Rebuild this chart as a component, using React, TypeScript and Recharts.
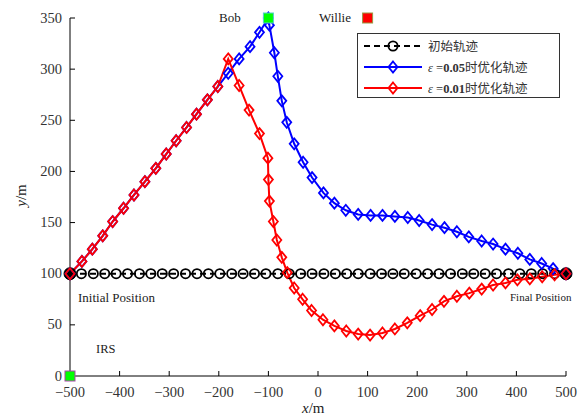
import React from 'react';
import { ComposedChart, Line, Scatter, XAxis, YAxis } from 'recharts';

// axis ticks
const X_TICKS = [-500, -400, -300, -200, -100, 0, 100, 200, 300, 400, 500];
const Y_TICKS = [0, 50, 100, 150, 200, 250, 300, 350];

// initial trajectory (straight line y = 100)
const INIT_X = [
  -500, -477, -453, -430, -407, -384, -360, -337, -314, -291, -267, -244, -221, -198, -174,
  -151, -128, -105, -81, -58, -35, -12, 12, 35, 58, 81, 105, 128, 151, 174, 198, 221, 244,
  267, 291, 314, 337, 360, 384, 407, 430, 453, 477, 500,
];
const INIT_Y = 100;

// ε = 0.05 optimised trajectory
const BLUE_X = [
  -500, -476, -455, -434, -414, -392, -371, -349, -327, -306, -286, -265, -245, -223, -202,
  -181, -159, -137, -118, -100, -98, -88, -81, -73, -63, -48, -30, -12, 11, 33, 56, 81, 106,
  130, 155, 181, 204, 230, 255, 280, 304, 330, 353, 378, 403, 427, 451, 474, 500,
];
const BLUE_Y = [
  100, 112, 124, 137, 151, 164, 177, 190, 203, 217, 230, 243, 256, 270, 283, 296, 310, 322,
  336, 350, 343, 316, 293, 269, 248, 227, 209, 194, 179, 169, 162, 158, 157, 157, 156, 155,
  152, 148, 145, 141, 136, 132, 129, 124, 120, 114, 110, 105, 100,
];

// ε = 0.01 optimised trajectory
const RED_X = [
  -500, -476, -455, -434, -414, -392, -371, -349, -327, -306, -286, -265, -245, -223, -202,
  -181, -159, -139, -118, -101, -100, -98, -90, -83, -73, -62, -48, -31, -13, 10, 33, 57, 81,
  105, 130, 155, 180, 206, 230, 254, 280, 305, 330, 353, 378, 402, 427, 452, 477, 500,
];
const RED_Y = [
  100, 112, 124, 137, 151, 164, 177, 190, 203, 217, 230, 243, 256, 270, 283, 310, 284, 260,
  237, 213, 192, 171, 151, 133, 116, 101, 86, 75, 64, 55, 49, 44, 41, 40, 42, 46, 52, 59, 65,
  73, 78, 81, 85, 89, 91, 94, 95, 97, 99, 100,
];

// node positions
const BOB = [{ x: -100, y: 350 }];
const IRS = [{ x: -500, y: 0 }];
const WILLIE = [{ x: 100, y: 350 }];
const ENDS = [{ x: -500, y: 100 }, { x: 500, y: 100 }];

const initData = INIT_X.map((x) => ({ x, y: INIT_Y }));
const blueData = BLUE_X.map((x, i) => ({ x, y: BLUE_Y[i] }));
const redData = RED_X.map((x, i) => ({ x, y: RED_Y[i] }));

const SERIF = '"Liberation Serif", "DejaVu Serif", serif';
const CJK = '"Liberation Serif", "Noto Sans CJK SC", serif';

const fmt = (v: number) => String(v).replace('-', '\u2212');

const diamond = (color: string) => (props: any) => {
  const { cx, cy, index } = props;
  if (cx == null || cy == null) return <g key={index} />;
  return (
    <polygon
      key={index}
      points={`${cx},${cy - 5.5} ${cx + 4.5},${cy} ${cx},${cy + 5.5} ${cx - 4.5},${cy}`}
      fill="none"
      stroke={color}
      strokeWidth={1.8}
    />
  );
};

const ring = (props: any) => {
  const { cx, cy, index } = props;
  if (cx == null || cy == null) return <g key={index} />;
  return <circle key={index} cx={cx} cy={cy} r={4.6} fill="none" stroke="#000" strokeWidth={1.8} />;
};

const square = (fill: string, stroke: string) => (props: any) => {
  const { cx, cy } = props;
  return <rect x={cx - 5} y={cy - 5} width={10} height={10} fill={fill} stroke={stroke} strokeWidth={1} />;
};

const bigDot = (props: any) => {
  const { cx, cy } = props;
  return <circle cx={cx} cy={cy} r={6} fill="#000" stroke="#000" />;
};

const XTick = (p: any) => (
  <text x={p.x} y={p.y} dy={21} textAnchor="middle" fill="#333" fontSize={14.5} fontFamily={SERIF}>
    {fmt(p.payload.value)}
  </text>
);

const YTick = (p: any) => (
  <text x={p.x} y={p.y} dy={4.5} textAnchor="end" fill="#333" fontSize={14.5} fontFamily={SERIF}>
    {fmt(p.payload.value)}
  </text>
);

const LegendBox = () => {
  const row = (color: string, dashed: boolean, marker: React.ReactNode, label: React.ReactNode) => (
    <div style={{ display: 'flex', alignItems: 'center', height: 21 }}>
      <svg width={62} height={16} style={{ marginLeft: 4 }}>
        <line x1={2} y1={8} x2={60} y2={8} stroke={color} strokeWidth={2} strokeDasharray={dashed ? '6 4' : undefined} />
        {marker}
      </svg>
      <span style={{ marginLeft: 4, fontFamily: CJK, fontSize: 12.5, color: '#333', whiteSpace: 'nowrap' }}>{label}</span>
    </div>
  );
  return (
    <div
      style={{
        position: 'absolute',
        left: 357,
        top: 33,
        width: 201,
        height: 62,
        border: '1px solid #333',
        background: '#fff',
        boxSizing: 'content-box',
        paddingTop: 1,
      }}
    >
      {row('#000', true, <circle cx={31} cy={8} r={4.6} fill="none" stroke="#000" strokeWidth={1.8} />, '初始轨迹')}
      {row(
        '#0000ff',
        false,
        <polygon points="31,2.5 35.5,8 31,13.5 26.5,8" fill="none" stroke="#0000ff" strokeWidth={1.8} />,
        <>
          <i style={{ fontFamily: SERIF }}>ε</i> =<b style={{ fontFamily: SERIF }}>0.05</b>时优化轨迹
        </>,
      )}
      {row(
        '#ff0000',
        false,
        <polygon points="31,2.5 35.5,8 31,13.5 26.5,8" fill="none" stroke="#ff0000" strokeWidth={1.8} />,
        <>
          <i style={{ fontFamily: SERIF }}>ε</i> =<b style={{ fontFamily: SERIF }}>0.01</b>时优化轨迹
        </>,
      )}
    </div>
  );
};

const txt = (left: number, top: number, size: number, content: React.ReactNode, extra: React.CSSProperties = {}) => (
  <div
    style={{
      position: 'absolute',
      left,
      top,
      fontFamily: SERIF,
      fontSize: size,
      color: '#222',
      whiteSpace: 'nowrap',
      lineHeight: 1,
      ...extra,
    }}
  >
    {content}
  </div>
);

export default function App() {
  return (
    <div
      style={{
        position: 'absolute',
        left: 0,
        top: 0,
        width: 581,
        height: 420,
        background: '#fff',
        fontFamily: SERIF,
      }}
    >
      <ComposedChart width={581} height={420} margin={{ top: 18, right: 15, bottom: 0, left: 0 }}>
        <XAxis
          type="number"
          dataKey="x"
          domain={[-500, 500]}
          ticks={X_TICKS}
          height={44}
          stroke="#000"
          tickSize={-5}
          tickMargin={5}
          tick={XTick}
        />
        <YAxis
          type="number"
          dataKey="y"
          domain={[0, 350]}
          ticks={Y_TICKS}
          width={70}
          stroke="#000"
          tickSize={-5}
          tickMargin={13}
          tick={YTick}
        />
        <Scatter data={ENDS} dataKey="y" shape={bigDot} isAnimationActive={false} />
        <Line
          data={initData}
          dataKey="y"
          stroke="#000"
          strokeWidth={2}
          strokeDasharray="6 4"
          dot={ring}
          activeDot={false}
          isAnimationActive={false}
        />
        <Line
          data={blueData}
          dataKey="y"
          stroke="#0000ff"
          strokeWidth={2}
          dot={diamond('#0000ff')}
          activeDot={false}
          isAnimationActive={false}
        />
        <Line
          data={redData}
          dataKey="y"
          stroke="#ff0000"
          strokeWidth={2}
          dot={diamond('#ff0000')}
          activeDot={false}
          isAnimationActive={false}
        />
        <Scatter data={BOB} dataKey="y" shape={square('#00ff00', '#55cccc')} isAnimationActive={false} />
        <Scatter data={IRS} dataKey="y" shape={square('#00ff00', '#aa44aa')} isAnimationActive={false} />
        <Scatter data={WILLIE} dataKey="y" shape={square('#ff0000', '#999944')} isAnimationActive={false} />
      </ComposedChart>
      <LegendBox />
      {txt(219, 11, 13, 'Bob')}
      {txt(319, 11, 13, 'Willie')}
      {txt(78, 291, 13, 'Initial Position')}
      {txt(510, 292, 11, 'Final Position')}
      {txt(96, 343, 12.5, 'IRS')}
      {txt(302, 401, 15, <><i>x</i>/m</>)}
      {txt(10, 188, 15, <><i>y</i>/m</>, { transform: 'rotate(-90deg)', transformOrigin: 'center' })}
    </div>
  );
}
